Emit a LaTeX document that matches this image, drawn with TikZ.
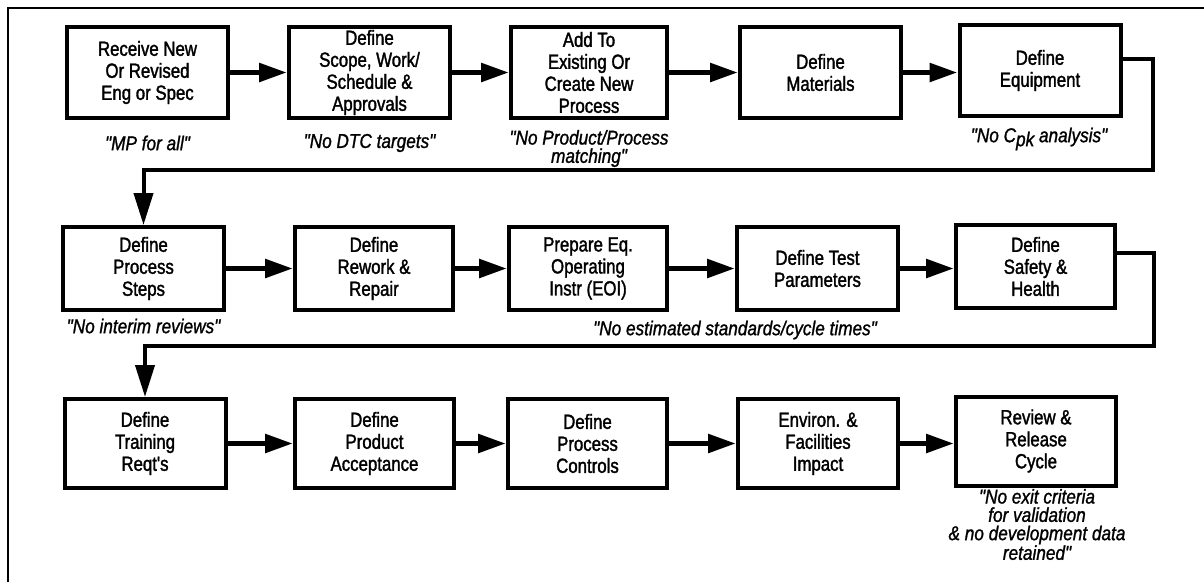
\documentclass[tikz,border=0pt]{standalone}
\usepackage{fontspec}
\setmainfont{Liberation Sans}
\newfontfamily\stepfont[FakeStretch=0.82,FakeBold=1.6]{Liberation Sans}
\newfontfamily\remarkfont[FakeStretch=0.86,FakeBold=1.2]{Liberation Sans}
\usetikzlibrary{arrows.meta,calc}

\begin{document}
\begin{tikzpicture}[x=1pt,y=-1pt,
  stepbox/.style={draw, line width=4pt, align=center, inner sep=0pt,
    minimum width=161pt, font=\stepfont\fontsize{20.5}{22}\selectfont},
  row1/.style={minimum height=91pt},
  row2/.style={minimum height=83pt},
  row3/.style={minimum height=89pt},
  note/.style={align=center, inner sep=0pt,
    font=\remarkfont\itshape\fontsize{20}{18.3}\selectfont},
  flow/.style={line width=5.5pt, -{Triangle[length=28pt,width=18pt]}},
  conn/.style={line width=4pt, -{Triangle[length=32pt,width=19pt]}},
  frame/.style={line width=2.5pt}
]
\useasboundingbox (0,0) rectangle (1204,582);

% page frame (left and top edges)
\draw[frame] (8,582) -- (8,8) -- (1204,8);

% first row
\node[stepbox,row1] (a1) at (147.5,72.5) {Receive New\\Or Revised\\Eng or Spec};
\node[stepbox,row1] (a2) at (369.5,72.5) {Define\\Scope, Work/\\Schedule \&\\Approvals};
\node[stepbox,row1,minimum width=156pt] (a3) at (589,72.5) {Add To\\Existing Or\\Create New\\Process};
\node[stepbox,row1] (a4) at (820.5,72.5) {Define\\Materials};
\node[stepbox,row1] (a5) at (1040,70.5) {Define\\Equipment};

% second row
\node[stepbox,row2] (b1) at (143.5,268.5) {Define\\Process\\Steps};
\node[stepbox,row2,minimum width=158pt] (b2) at (374,268.5) {Define\\Rework \&\\Repair};
\node[stepbox,row2,minimum width=158pt] (b3) at (588,268.5) {Prepare Eq.\\Operating\\Instr (EOI)};
\node[stepbox,row2] (b4) at (817.5,268.5) {Define Test\\Parameters};
\node[stepbox,row2,minimum width=159pt] (b5) at (1035.5,266.5) {Define\\Safety \&\\Health};

% third row
\node[stepbox,row3] (c1) at (145,443.5) {Define\\Training\\Reqt's};
\node[stepbox,row3,minimum width=159pt] (c2) at (374.5,443.5) {Define\\Product\\Acceptance};
\node[stepbox,row3,minimum width=159pt] (c3) at (587.5,443.5) {Define\\Process\\Controls};
\node[stepbox,row3,minimum width=160pt] (c4) at (818,443.5) {Environ. \&\\Facilities\\Impact};
\node[stepbox,row3,minimum width=160pt] (c5) at (1036,441) {Review \&\\Release\\Cycle};

% remarks under the steps
\node[note] (n1) at (147.5,143) {"MP for all"};
\node[note] (n2) at (369.5,143) {"No DTC targets"};
\node[note] (n3) at (589,148.5) {"No Product/Process\\matching"};
\node[note] (n5) at (1039,139) {"No C\raisebox{-4pt}{pk} analysis"};
\node[note] (n6) at (143.5,326) {"No interim reviews"};
\node[note] (n8) at (735,330) {"No estimated standards/cycle times"};
\node[note] (n10) at (1037,524.5) {"No exit criteria\\for validation\\\& no development data\\retained"};

% arrows along each row, kept level with the left box
\foreach \p/\q in {a1/a2,a2/a3,a3/a4,a4/a5,b1/b2,b2/b3,b3/b4,b4/b5,c1/c2,c2/c3,c3/c4,c4/c5}
  \draw[flow] (\p.east) -- (\p.east -| \q.west);

% returns from the end of one row to the start of the next
\coordinate (r1out) at ($(a5.east)+(0,-12)$);
\coordinate (r1turn) at (1153,170);
\draw[conn] (r1out) -| (r1turn) -| (b1.north);

\coordinate (r2out) at ($(b5.east)+(0,-14)$);
\coordinate (r2turn) at (1154,346);
\draw[conn] (r2out) -| (r2turn) -| (c1.north);
\end{tikzpicture}
\end{document}
